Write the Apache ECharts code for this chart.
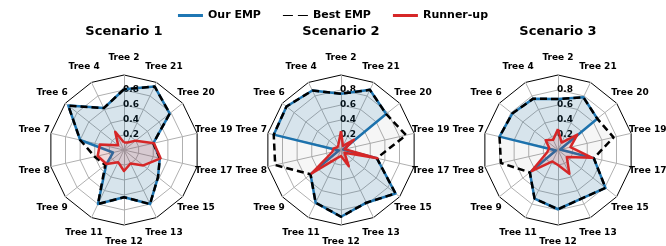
<!DOCTYPE html>
<html>
<head>
<meta charset="utf-8">
<script src="https://cdn.jsdelivr.net/npm/echarts@6/dist/echarts.min.js"></script>
<style>
  body { margin: 0; background: #fff; }
  #radarChart { width: 666px; height: 246px; }
</style>
</head>
<body>
<div id="radarChart"></div>
<script>
  // trees in radar order (echarts goes counter-clockwise from the top)
  var trees = ['Tree 2', 'Tree 4', 'Tree 6', 'Tree 7', 'Tree 8', 'Tree 9', 'Tree 11',
    'Tree 12', 'Tree 13', 'Tree 15', 'Tree 17', 'Tree 19', 'Tree 20', 'Tree 21']
  var scenarios = ['Scenario 1', 'Scenario 2', 'Scenario 3']
  var seriesNames = ['Our EMP', 'Best EMP', 'Runner-up']
  var radialTicks = [0.2, 0.4, 0.6, 0.8]

  var ourEmp1 = [0.81, 0.62, 0.95, 0.60, 0.15, 0.30, 0.80, 0.63, 0.80, 0.58, 0.49, 0.40, 0.78, 0.94]
  var bestEmp1 = [0.81, 0.62, 0.95, 0.60, 0.40, 0.32, 0.80, 0.63, 0.80, 0.58, 0.49, 0.40, 0.78, 0.94]
  var runnerUp1 = [0.10, 0.27, 0.10, 0.33, 0.36, 0.30, 0.18, 0.28, 0.20, 0.33, 0.50, 0.41, 0.20, 0.11]

  var ourEmp2 = [0.75, 0.88, 0.93, 0.92, 0.03, 0.52, 0.78, 0.89, 0.78, 0.93, 0.49, 0.03, 0.77, 0.89]
  var bestEmp2 = [0.75, 0.88, 0.93, 0.92, 0.90, 0.52, 0.78, 0.89, 0.78, 0.93, 0.49, 0.89, 0.77, 0.89]
  var runnerUp2 = [0.25, 0.08, 0.06, 0.10, 0.12, 0.50, 0.12, 0.08, 0.24, 0.06, 0.50, 0.05, 0.22, 0.06]

  var ourEmp3 = [0.68, 0.76, 0.78, 0.80, 0.03, 0.48, 0.72, 0.79, 0.72, 0.81, 0.49, 0.03, 0.67, 0.78]
  var bestEmp3 = [0.68, 0.76, 0.78, 0.80, 0.78, 0.48, 0.72, 0.79, 0.72, 0.81, 0.49, 0.76, 0.67, 0.78]
  var runnerUp3 = [0.28, 0.15, 0.21, 0.12, 0.15, 0.45, 0.17, 0.20, 0.35, 0.15, 0.47, 0.17, 0.33, 0.11]

  var ourValues = [ourEmp1, ourEmp2, ourEmp3]
  var bestValues = [bestEmp1, bestEmp2, bestEmp3]
  var runnerValues = [runnerUp1, runnerUp2, runnerUp3]

  var font = 'DejaVu Sans'
  var centersX = [124, 341, 558]
  var colors = ['#1f77b4', '#000000', '#d62728']
  var fills = ['rgba(31,119,180,0.2)', 'rgba(0,0,0,0.05)', 'rgba(214,39,40,0.2)']

  function makeRadar (cx) {
    return {
      center: [cx, 150],
      radius: 75,
      startAngle: 90,
      shape: 'polygon',
      splitNumber: 5,
      indicator: trees.map(function (t, j) {
        var ind = { name: t, min: 0, max: 1 }
        if (j === 0) {
          ind.axisLabel = {
            show: true,
            color: '#000',
            fontSize: 9,
            fontWeight: 'bold',
            fontFamily: font,
            margin: 1,
            align: 'left',
            padding: [0, 0, 10, 0],
            formatter: function (v) {
              return radialTicks.indexOf(Math.round(v * 10) / 10) >= 0 ? v.toFixed(1) : ''
            }
          }
        }
        return ind
      }),
      nameGap: 17,
      axisName: {
        color: '#000',
        fontSize: 9,
        fontWeight: 'bold',
        fontFamily: font,
        align: 'center',
        verticalAlign: 'middle'
      },
      splitLine: {
        // ring 0 is the centre, the last one is the outer frame
        lineStyle: { color: ['#b0b0b0', '#b0b0b0', '#b0b0b0', '#b0b0b0', '#b0b0b0', '#000'], width: 1 }
      },
      splitArea: { show: false },
      axisLine: { lineStyle: { color: '#b0b0b0', width: 1 } }
    }
  }

  function makeSeries (k, i, values) {
    return {
      name: seriesNames[k],
      type: 'radar',
      radarIndex: i,
      symbol: 'none',
      silent: true,
      itemStyle: { color: colors[k] },
      lineStyle: { color: colors[k], width: 2.5, type: k === 1 ? [7, 4] : 'solid' },
      areaStyle: { color: fills[k] },
      data: [{ value: values, name: seriesNames[k] }]
    }
  }

  var series = []
  for (var i = 0; i < 3; i++) {
    series.push(makeSeries(0, i, ourValues[i]))
    series.push(makeSeries(1, i, bestValues[i]))
    series.push(makeSeries(2, i, runnerValues[i]))
  }

  var option = {
    animation: false,
    title: scenarios.map(function (s, i) {
      return {
        text: s,
        left: centersX[i],
        top: 25,
        padding: 0,
        textAlign: 'center',
        textStyle: { fontSize: 13, fontWeight: 'bold', fontFamily: font, color: '#000' }
      }
    }),
    legend: {
      top: 5,
      left: 'center',
      itemWidth: 25,
      itemHeight: 3,
      itemGap: 22,
      textStyle: { fontSize: 11, fontWeight: 'bold', fontFamily: font, color: '#000' },
      data: [
        { name: 'Our EMP', icon: 'rect' },
        { name: 'Best EMP', icon: 'path://M0,0H10V1H0Z M15,0H25V1H15Z' },
        { name: 'Runner-up', icon: 'rect' }
      ]
    },
    radar: centersX.map(makeRadar),
    series: series
  }

  var chart = echarts.init(document.getElementById('radarChart'))
  chart.setOption(option)
</script>
</body>
</html>
